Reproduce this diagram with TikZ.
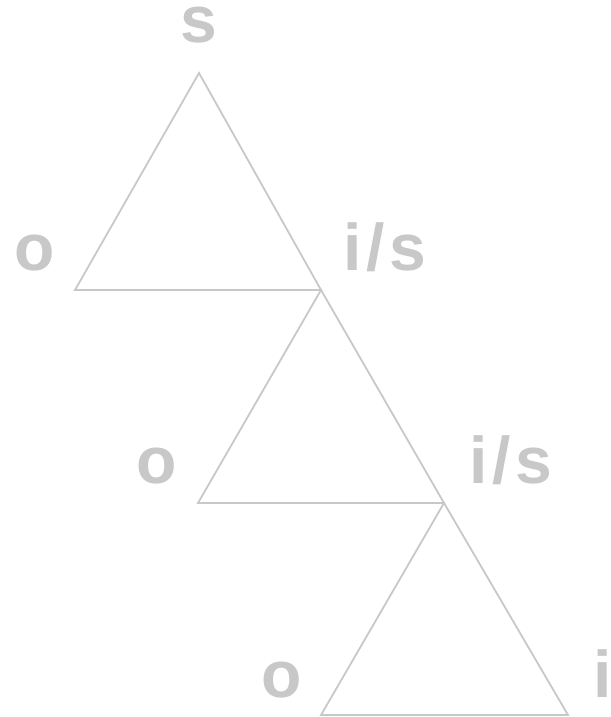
\documentclass[tikz,border=0pt]{standalone}
\usepackage{fontspec}
\setmainfont{Liberation Sans}
\usepackage{tikz}
\definecolor{mygrey}{RGB}{200,200,200}
\newcommand{\isl}{i\kern5pt/\kern5pt s}
\tikzset{
  tri/.style={draw=mygrey, line width=1.8pt, line join=miter},
  lbl/.style={text=mygrey, font=\fontsize{66}{66}\selectfont\bfseries, inner sep=0pt, anchor=base}
}
\begin{document}
\begin{tikzpicture}[x=1pt, y=-1pt]
  \useasboundingbox (0,0) rectangle (610,717);
  % triangle vertices
  \coordinate (s1) at (199,73);
  \coordinate (l1) at (75,290);
  \coordinate (r1) at (321,290);
  \coordinate (l2) at (198,503);
  \coordinate (r2) at (444,503);
  \coordinate (l3) at (321,715);
  \coordinate (r3) at (568,715);

  \draw[tri] (s1) -- (l1) -- (r1) -- cycle;
  \draw[tri] (r1) -- (l2) -- (r2) -- cycle;
  \draw[tri] (r2) -- (l3) -- (r3) -- cycle;

  % labels
  \node[lbl, text height=34pt] (top) at (199,43) {s};
  \node[lbl] (o1) at (35,270) {o};
  \node[lbl, anchor=base west] (is1) at (343,270) {\isl};
  \node[lbl] (o2) at (157,483) {o};
  \node[lbl, anchor=base west] (is2) at (469,483) {\isl};
  \node[lbl] (o3) at (282,697) {o};
  \node[lbl, anchor=base west] (i3) at (593,697) {i};
\end{tikzpicture}
\end{document}
